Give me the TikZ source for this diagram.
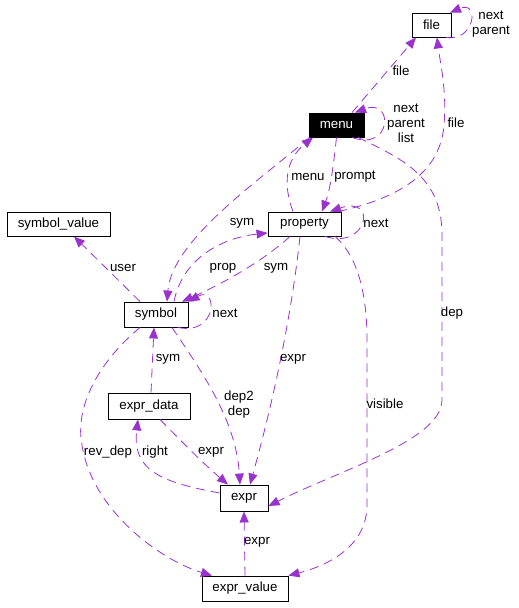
\documentclass[tikz,border=0pt]{standalone}
\usepackage{fontspec}
\setmainfont{Liberation Sans}
\usetikzlibrary{arrows.meta}
\definecolor{orchid}{HTML}{9A32CD}
\begin{document}
\begin{tikzpicture}[x=1pt,y=-1pt,
  box/.style={draw=black,line width=0.9pt,fill=white,inner sep=0pt,minimum height=24pt,font=\fontsize{13.3}{15}\selectfont},
  rootbox/.style={box,fill=black,text=white},
  edge/.style={draw=orchid,line width=0.8pt,dash pattern=on 9pt off 6pt,-{Triangle[length=11pt,width=9pt,fill=orchid]}},
  lbl/.style={inner sep=0pt,align=center,font=\fontsize{13.3}{15}\selectfont}]
\useasboundingbox[fill=white] (0,0) rectangle (519,608);
% nodes
\node[box,minimum width=39pt] (file) at (431.5,25) {file};
\node[rootbox,minimum width=55pt] (menu) at (336.5,125) {menu};
\node[box,minimum width=73pt] (property) at (304.5,224) {property};
\node[box,minimum width=103pt] (symval) at (58.5,224) {symbol\_value};
\node[box,minimum width=64pt,minimum height=25pt] (symbol) at (156,314.5) {symbol};
\node[box,minimum width=82pt,minimum height=26pt] (exprdata) at (149,406) {expr\_data};
\node[box,minimum width=48pt,minimum height=26pt] (expr) at (244,498) {expr};
\node[box,minimum width=86pt,minimum height=25pt] (exprval) at (245,588.5) {expr\_value};
% edges
\draw[edge] ([xshift=14.5pt]file.south) .. controls (475,42) and (480,0) .. ([xshift=18.5pt]file.north);
\draw[edge] ([xshift=15.5pt]menu.north) -- ([xshift=-15.5pt]file.south);
\draw[edge] ([xshift=15.5pt]menu.south) .. controls (392,152) and (394,98) .. ([xshift=18.5pt]menu.north);
\draw[edge] ([xshift=33.5pt]property.north) .. controls (390,200) and (440,178) .. (444,125)
  .. controls (447,90) and (440,62) .. ([xshift=5.5pt]file.south);
\draw[edge] ([xshift=-11.5pt]property.north) .. controls (283,185) and (285,160) .. ([xshift=-23.5pt]menu.south);
\draw[edge] (menu.south) .. controls (333,170) and (330,190) .. ([xshift=17.5pt]property.north);
\draw[edge] ([xshift=20.5pt]property.south) .. controls (368,250) and (378,195) .. ([xshift=25.5pt]property.north);
\draw[edge] ([xshift=1pt]menu.south west) .. controls (260,180) and (172,240) .. ([xshift=11pt]symbol.north);
\draw[edge] ([xshift=18pt]symbol.north) .. controls (182,260) and (220,238) .. ([yshift=-9pt]property.west);
\draw[edge] ([xshift=-14.5pt]property.south) .. controls (262,262) and (220,285) .. ([xshift=26pt]symbol.north);
\draw[edge] ([xshift=22pt]symbol.south) .. controls (218,336) and (218,285) .. (symbol.north east);
\draw[edge] ([xshift=-16pt]symbol.north) -- ([xshift=15.5pt]symval.south);
\draw[edge] ([xshift=2pt]exprdata.north) -- ([xshift=-2pt]symbol.south);
\draw[edge] ([xshift=16pt]symbol.south) .. controls (202,372) and (236,420) .. ([xshift=-4pt]expr.north);
\draw[edge] ([xshift=-4.5pt]property.south) .. controls (290,330) and (268,420) .. ([xshift=6pt]expr.north);
\draw[edge] ([xshift=11pt]exprdata.south) .. controls (185,445) and (205,465) .. ([xshift=-16pt]expr.north);
\draw[edge] ([yshift=5pt]expr.west) .. controls (160,482) and (132,470) .. ([xshift=-11pt]exprdata.south);
\draw[edge] ([xshift=-16pt]symbol.south) .. controls (95,365) and (75,410) .. (82,445)
  .. controls (92,510) and (160,560) .. ([xshift=-33pt]exprval.north);
\draw[edge] (exprval.north) -- (expr.south);
\draw[edge] ([xshift=30.5pt]property.south) .. controls (360,258) and (367,300) .. (367,340)
  -- (367,505) .. controls (367,545) and (330,565) .. (exprval.north east);
\draw[edge] ([xshift=21.5pt]menu.south) .. controls (405,160) and (442,178) .. (442,235)
  -- (442,400) .. controls (442,440) and (340,470) .. ([yshift=-8pt]expr.east);
% labels
\node[lbl] (l1) at (491,24.5) {next\\parent};
\node[lbl] (l2) at (401,71) {file};
\node[lbl] (l3) at (406,123) {next\\parent\\list};
\node[lbl] (l4) at (456,123) {file};
\node[lbl] (l5) at (308,177) {menu};
\node[lbl] (l6) at (355,177) {prompt};
\node[lbl] (l7) at (376,223) {next};
\node[lbl] (l8) at (242,223) {sym};
\node[lbl] (l9) at (223,268) {prop};
\node[lbl] (l10) at (276,268) {sym};
\node[lbl] (l11) at (123,268) {user};
\node[lbl] (l12) at (225,313) {next};
\node[lbl] (l13) at (452,313) {dep};
\node[lbl] (l14) at (168,359) {sym};
\node[lbl] (l15) at (293,359) {expr};
\node[lbl] (l16) at (239,405) {dep2\\dep};
\node[lbl] (l17) at (385,404) {visible};
\node[lbl] (l18) at (108,452) {rev\_dep};
\node[lbl] (l19) at (155,452) {right};
\node[lbl] (l20) at (211,452) {expr};
\node[lbl] (l21) at (257,542) {expr};
\end{tikzpicture}
\end{document}
